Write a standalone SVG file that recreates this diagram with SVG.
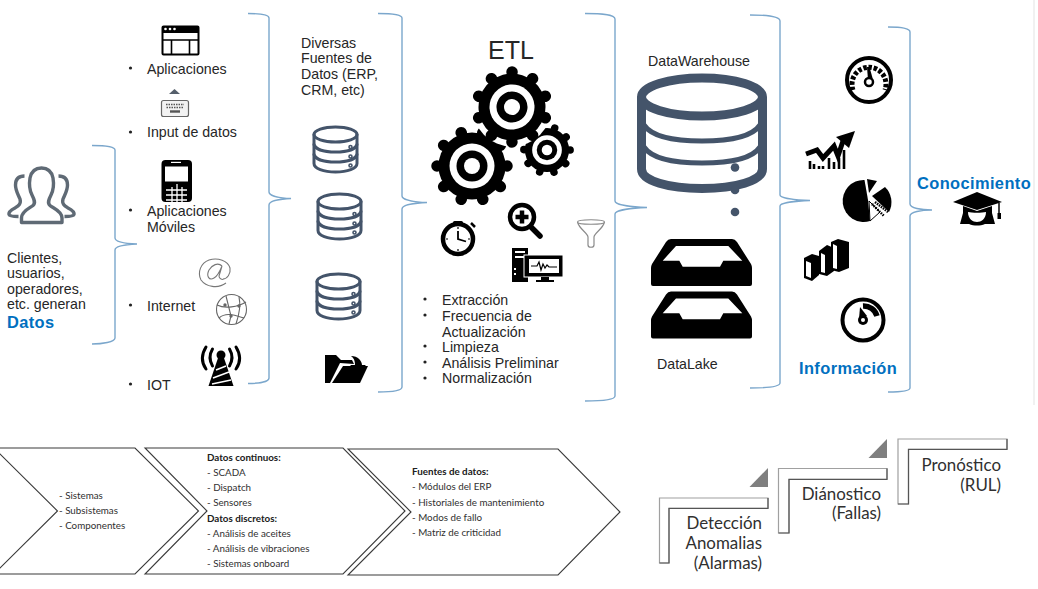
<svg xmlns="http://www.w3.org/2000/svg" xmlns:xlink="http://www.w3.org/1999/xlink" width="1038" height="589" viewBox="0 0 1038 589">
<style>
text{font-family:"Liberation Sans",Arial,sans-serif;font-size:14.2px;fill:#262626}
text:not(.cal):not(.calb):not(.big){transform:translateY(.8px)}
.blue{font-weight:bold;fill:#0070c0;font-size:16.4px;letter-spacing:.4px}
.cal{font-family:Lato,Carlito,sans-serif;font-size:9.8px;fill:#303030}
.calb{font-family:Lato,Carlito,sans-serif;font-size:9.8px;font-weight:bold;fill:#202020}
.big{font-family:Lato,Carlito,sans-serif;font-size:16.9px;fill:#303030;text-anchor:end}
.brace{fill:none;stroke:#7ba7cc;stroke-width:1.4}
.chev{fill:#fff;stroke:#3a3a3a;stroke-width:1.1}
.stepo{fill:#fff;stroke:#a0a0a0;stroke-width:1.2}
.stepi{fill:none;stroke:#555;stroke-width:1.2}
.tri{fill:#7f7f7f}
.bk{fill:#000}
.wh{fill:#fff}
</style>
<defs>
<g id="gear">
<circle r="35" fill="none" stroke="#000" stroke-width="11.5" stroke-linecap="round" pathLength="100" stroke-dasharray="0.01 9.99"/>
<circle r="33.5" fill="#000"/>
<circle r="22.5" fill="#fff"/>
<circle r="15.5" fill="#000"/>
<circle r="8" fill="#fff"/>
</g>
<g id="db" fill="none" stroke="#44546a" stroke-width="3" stroke-linecap="round">
<ellipse cx="23" cy="9" rx="21.500" ry="7.500"/>
<path d="M1.500 9V38C1.500 43 11 46.500 23 46.500S44.500 43 44.500 38V9"/>
<path d="M1.500 19C3 24 12 26.500 23 26.500S43 24 44.500 19M1.500 29C3 34 12 36.500 23 36.500S43 34 44.500 29"/>
<circle cx="38" cy="21.500" r="0.800"/><circle cx="38" cy="31" r="0.800"/><circle cx="38" cy="40" r="0.800"/>
</g>
<path id="tray" fill-rule="evenodd" d="M671 239H732Q735 239 737 242L751 264Q752 266 752 268V284Q752 286 750 286H653Q651 286 651 284V268Q651 266 652 264L666 242Q668 239 671 239ZM662.700 260.700H679.300L682.700 266.700H720L723.300 260.700H742.300L728.300 246H676Z"/>
</defs>

<path id="borde" d="M1034 0V405" stroke="#ececec" stroke-width="1.500" fill="none"/>

<g id="connectors">
<path class="brace" d="M92 145.500C102 145.500 115 146 115 150V238C115 242 125 243.500 137 244C125 244.500 115 246 115 250V338C115 342 102 344 92 344"/>
<path class="brace" d="M248 13.500C258 13.500 269 14 269 18V192C269 196 280 198 291 198.500C280 199 269 201 269 205V378C269 382 258 383.500 248 383.500"/>
<path class="brace" d="M378 13.500C390 13.500 402 14 402 18V196C402 200 415 202 427 202.500C415 203 402 205 402 209V387C402 391 390 392 378 392"/>
<path class="brace" d="M585 13.500C600 13.500 615 14 615 19V201C615 205 632 207 647 207.500C632 208 615 210 615 214V396C615 400 600 401 585 401"/>
<path class="brace" d="M750 15C765 15 780 16 780 21V195C780 198 795 200 810 200.500C795 201 780 203 780 206V383C780 387 765 388 750 388"/>
<path class="brace" d="M888 27C899 27 910 28 910 32V204C910 208 921 210 932 210C921 210 910 212 910 216V388C910 391 899 392 888 392"/>
</g>

<g id="usuarios">
<g fill="none" stroke="#5f6a75" stroke-width="3.400" stroke-linejoin="round">
<path d="M21.500 222.500V218C21.500 211 30 208 33 205.500C36 203 34 199 32 195C29 189 29 184 30 178C31.500 171 36 168 41.500 168S51.500 171 53 178C54 184 54 189 51 195C49 199 47 203 50 205.500C53 208 62 211 62 218V222.500Z"/>
<path d="M24.500 176C18 176 15.500 180 15.500 185C15.500 191 18.500 195 20 199C21.500 204 18 206 15 208C11 210 8.500 212 9 214.500C9.500 216 13 216.500 18.500 216.500"/>
<path d="M58.500 176C65 176 67.500 180 67.500 185C67.500 191 64.500 195 63 199C61.500 204 65 206 68 208C72 210 74.500 212 74 214.500C73.500 216 70 216.500 64.500 216.500"/>
</g>
<text x="7" y="262">Clientes,</text>
<text x="7" y="277">usuarios,</text>
<text x="7" y="293">operadores,</text>
<text x="7" y="308">etc. generan</text>
<text x="7" y="327" class="blue">Datos</text>
</g>

<g id="aplicaciones">
<rect x="162.500" y="26.500" width="36" height="28" rx="1" fill="#fff" stroke="#000" stroke-width="2"/>
<rect x="162" y="26" width="37" height="7" class="bk"/>
<circle cx="165.500" cy="29" r="1.300" class="wh"/><circle cx="170" cy="29" r="1.300" class="wh"/><circle cx="174.500" cy="29" r="1.300" class="wh"/>
<path d="M162 40H199M171.500 40V55M189.500 40V55" stroke="#000" stroke-width="1.600" fill="none"/>
<circle cx="130.500" cy="68" r="1.600" fill="#222"/>
<text x="147" y="73">Aplicaciones</text>
</g>

<g id="input-datos">
<path d="M169 94L174.500 89L180 94Z" fill="#555f6b"/>
<rect x="161.500" y="100.500" width="27" height="16" rx="2" fill="#f2f2f2" stroke="#666" stroke-width="1.200"/>
<path d="M166 104.500H184M166.500 107.500H183.500" stroke="#555" stroke-width="1.500" stroke-dasharray="1.500 1" fill="none"/>
<path d="M170 111.500H180" stroke="#555" stroke-width="2.400" fill="none"/>
<circle cx="130.500" cy="132" r="1.600" fill="#222"/>
<text x="147" y="136">Input de datos</text>
</g>

<g id="moviles">
<rect x="161.500" y="160" width="30.500" height="42" rx="4" class="bk"/>
<rect x="165" y="166.500" width="23" height="15" class="wh"/>
<rect x="171" y="161.800" width="10" height="1.200" class="wh"/>
<path d="M166 190H187M166 195H187M166 200H187M172 187V202M177 184V202M182 187V202" stroke="#fff" stroke-width="1.300" fill="none"/>
<circle cx="130.500" cy="210" r="1.600" fill="#222"/>
<text x="147" y="215">Aplicaciones</text>
<text x="147" y="231">Móviles</text>
</g>

<g id="internet">
<g fill="none" stroke="#777" stroke-width="1.100">
<path d="M226 283C218 289 206 287 201 280C197 272 201 263 209 260C218 257 228 261 230 268C231 274 227 279 223 279"/>
<path d="M222 266C218 262 212 265 209 270C206 276 209 281 214 278C218 276 220 271 222 266L219 276C219 279 223 280 223 279"/>
</g>
<g fill="none" stroke="#666" stroke-width="1.100">
<circle cx="231.500" cy="309.500" r="15"/>
<path d="M217 305C225 309 238 307 246 302M219 318C226 312 234 315 244 318M226 296L231 316L229 324M239 297C241 305 240 312 236 324"/>
</g>
<circle cx="225" cy="305" r="1.700" fill="#666"/><circle cx="239" cy="306" r="1.700" fill="#666"/><circle cx="231" cy="316" r="1.700" fill="#666"/>
<circle cx="130.500" cy="305" r="1.600" fill="#222"/>
<text x="147" y="310">Internet</text>
</g>

<g id="iot">
<path d="M208.500 386L218 358H224L233.500 386Z" class="bk"/>
<path d="M216 370L226 366M213 378L229 372M212 384L231 380" stroke="#fff" stroke-width="1.500" fill="none"/>
<circle cx="221" cy="355" r="4.500" class="bk"/>
<path d="M212.500 349C209 355 209 360 212.500 366M206 347C201 355 201 362 206 369M229.500 349C233 355 233 360 229.500 366M236 347C241 355 241 362 236 369" fill="none" stroke="#000" stroke-width="3" stroke-linecap="round"/>
<circle cx="130.500" cy="384" r="1.600" fill="#222"/>
<text x="147" y="389">IOT</text>
</g>

<g id="fuentes">
<text x="301" y="47">Diversas</text>
<text x="301" y="62">Fuentes de</text>
<text x="301" y="78">Datos (ERP,</text>
<text x="301" y="94">CRM, etc)</text>
<use xlink:href="#db" href="#db" x="312.500" y="125.500"/>
<use xlink:href="#db" href="#db" x="316.500" y="192.500"/>
<use xlink:href="#db" href="#db" x="315.500" y="272.500"/>
<path d="M325 355H336L341 360H352L354 364L340 363L330 383H325Z" class="bk"/>
<path d="M332 383L343 366H368L360 383Z" class="bk"/>
<path d="M351 356C358 356 362 361 362 365H366L358 372L350 365H355C355 361 354 358 351 356Z" class="bk"/>
</g>

<g id="etl">
<text x="488" y="58" style="font-size:25px">ETL</text>
<use xlink:href="#gear" href="#gear" transform="translate(472 166)"/>
<use xlink:href="#gear" href="#gear" transform="translate(547 150) scale(.66)"/>
<circle cx="512" cy="107" r="39.500" fill="#fff"/>
<use xlink:href="#gear" href="#gear" transform="translate(512 107) rotate(18)"/>
<g id="cronometro">
<circle cx="458" cy="239" r="15" fill="#fff" stroke="#000" stroke-width="4.500"/>
<rect x="453" y="221" width="10" height="3.500" rx="1.500" class="bk"/>
<rect x="456.500" y="224" width="3" height="2" class="bk"/>
<path d="M471 223L475 227" stroke="#000" stroke-width="2.500"/>
<path d="M458 231V239L466 241.500" fill="none" stroke="#000" stroke-width="1.800"/>
<path d="M458 227V229M458 249V251M446 239H448M468 239H470" stroke="#000" stroke-width="1.200"/>
</g>
<g id="lupa">
<path d="M531 227L540 236" stroke="#000" stroke-width="5.500" stroke-linecap="round"/>
<circle cx="522" cy="217" r="12" fill="#fff" stroke="#000" stroke-width="4.500"/>
<path d="M522 210.500V223.500M515.500 217H528.500" stroke="#000" stroke-width="4.500"/>
</g>
<path id="embudo" d="M577.500 222C577.500 219 604.500 219 604.500 222C604.500 225 577.500 225 577.500 222C579 229 588 233 588 237V245C588 248 594 248 594 245V237C594 233 603 229 604.500 222" fill="#fff" stroke="#8a8a8a" stroke-width="1.200"/>
<g id="monitor">
<rect x="512" y="248" width="16" height="34" class="bk"/>
<rect x="515" y="251" width="10" height="2" class="wh"/>
<rect x="515" y="256" width="10" height="2" class="wh"/>
<rect x="514" y="268" width="2" height="2" class="wh"/><rect x="514" y="273" width="2" height="2" class="wh"/>
<rect x="524" y="255" width="39" height="22" fill="#000" stroke="#fff" stroke-width="1"/>
<rect x="529" y="259" width="30" height="14" class="wh"/>
<path d="M531 266H537L539 262L541 270L543 264L545 268L547 265L549 267H557" fill="none" stroke="#000" stroke-width="1.200"/>
<path d="M541 277H549V280H554V282H536V280H541Z" class="bk"/>
</g>
<g id="lista-etl">
<circle cx="425" cy="299" r="1.600" fill="#222"/><circle cx="425" cy="315" r="1.600" fill="#222"/><circle cx="425" cy="346" r="1.600" fill="#222"/><circle cx="425" cy="362" r="1.600" fill="#222"/><circle cx="425" cy="378" r="1.600" fill="#222"/>
<text x="442" y="304">Extracción</text>
<text x="442" y="320">Frecuencia de</text>
<text x="442" y="336">Actualización</text>
<text x="442" y="351">Limpieza</text>
<text x="442" y="367">Análisis Preliminar</text>
<text x="442" y="382">Normalización</text>
</g>
</g>

<g id="datawarehouse">
<text x="648" y="65">DataWarehouse</text>
<g fill="none" stroke="#44546a">
<ellipse cx="702" cy="97" rx="60.500" ry="19" stroke-width="9"/>
<path d="M641.500 97V169C641.500 181 669 188.500 702 188.500S762.500 181 762.500 169V97" stroke-width="9"/>
<path d="M644 125C652 137 676 141 702 141S752 137 760 125M644 147C652 159 676 163 702 163S752 159 760 147" stroke-width="5"/>
</g>
<circle cx="735" cy="167.500" r="4.300" fill="#44546a"/>
<circle cx="735" cy="190" r="4.300" fill="#44546a"/>
<circle cx="735" cy="212" r="4.300" fill="#44546a"/>
</g>

<g id="datalake">
<use xlink:href="#tray" href="#tray"/>
<use xlink:href="#tray" href="#tray" y="52.500"/>
<text x="657" y="368">DataLake</text>
</g>

<g id="informacion">
<g id="gauge1">
<circle cx="869" cy="80" r="22" fill="#fff" stroke="#000" stroke-width="4"/>
<path d="M853 90A17 17 0 1 1 885 90" fill="none" stroke="#000" stroke-width="5" stroke-dasharray="3.500 1.800"/>
<path d="M867 67H869.500L872.500 78L868 80Z" class="bk"/>
<circle cx="869" cy="82" r="4" fill="#fff" stroke="#000" stroke-width="2.500"/>
</g>
<g id="tendencia">
<path d="M806 154L817 150L823 158L834 146L838 156L844 138" fill="none" stroke="#000" stroke-width="5"/>
<path d="M836 137L855 131L849 148Z" class="bk"/>
<path d="M810 161V169M814 164V169M819 166V169M823 166V169M829 158V169M834 162V169M839 158V169M844 150V169" stroke="#000" stroke-width="2.600" fill="none"/>
</g>
<g id="pastel">
<path d="M864.500 180A21 21 0 1 0 870 221L868 200Z" class="bk"/>
<path d="M867 179L877 181L869 193Z" class="bk"/>
<path d="M872 196L885 187A21 21 0 0 1 889 212Z" class="bk"/>
<path d="M869 201L880 212L870 221Z" fill="none" stroke="#000" stroke-width="1"/>
<path d="M872 204L884 216M875 202L888 212" stroke="#000" stroke-width="2.500" stroke-dasharray="1.500 1" fill="none"/>
</g>
<g id="barras">
<path d="M804 258L812 254L819 256V275L812 281L804 278Z" class="bk"/>
<path d="M819 251L827 245L834 248V271L827 276L819 274Z" class="bk"/>
<path d="M831 242L838 239L849 242V268L839 272L831 270Z" class="bk"/>
<path d="M806 261V276L811 278V263ZM821 253V272L825 273V255ZM833 244V268L837 269V246Z" class="wh"/>
</g>
<g id="gauge2">
<circle cx="863" cy="320" r="20.500" fill="#fff" stroke="#000" stroke-width="4"/>
<path d="M863 306A14 14 0 0 1 877 316" fill="none" stroke="#000" stroke-width="5.500"/>
<path d="M860 307L867 316L859 319Z" class="bk"/>
<circle cx="863" cy="320" r="5" class="bk"/><circle cx="863" cy="320" r="2" class="wh"/>
</g>
<text x="799" y="373" class="blue">Información</text>
</g>

<g id="conocimiento">
<text x="917" y="188" class="blue">Conocimiento</text>
<path d="M953 202L977 192L1002 202L977 210Z" class="bk"/>
<path d="M999 203V214" stroke="#000" stroke-width="1.500"/>
<rect x="997.500" y="213" width="3.500" height="6" class="bk"/>
<path d="M963 206L977 211L992 206V213L995 224H985C980 226 974 226 969 224H960L963 213Z" class="bk"/>
<path d="M968 212C972 213 982 213 986 212C986 219 981 222 977 222S968 219 968 212Z" class="wh"/>
</g>

<g id="chevron-sistemas">
<path class="chev" d="M-6 448H135L198.500 511L135 574H-6L57.500 511Z"/>
<text x="59" y="499" class="cal">- Sistemas</text>
<text x="59" y="514" class="cal">- Subsistemas</text>
<text x="59" y="529" class="cal">- Componentes</text>
</g>
<g id="chevron-continuos">
<path class="chev" d="M145 448H343L405 511L343 574H145L207 511Z"/>
<text x="207" y="461" class="calb">Datos continuos:</text>
<text x="207" y="476" class="cal">- SCADA</text>
<text x="207" y="491" class="cal">- Dispatch</text>
<text x="207" y="506" class="cal">- Sensores</text>
<text x="207" y="522" class="calb">Datos discretos:</text>
<text x="207" y="537" class="cal">- Análisis de aceites</text>
<text x="207" y="552" class="cal">- Análisis de vibraciones</text>
<text x="207" y="567" class="cal">- Sistemas onboard</text>
</g>
<g id="chevron-fuentes">
<path class="chev" d="M348 449H558L620 512L558 575H348L411 512Z"/>
<text x="412" y="475" class="calb">Fuentes de datos:</text>
<text x="412" y="490" class="cal">- Módulos del ERP</text>
<text x="412" y="506" class="cal">- Historiales de mantenimiento</text>
<text x="412" y="521" class="cal">- Modos de fallo</text>
<text x="412" y="536" class="cal">- Matriz de criticidad</text>
</g>

<g id="deteccion">
<path class="tri" d="M749.500 487L768 468V487Z"/>
<path class="stepo" d="M659.500 498H768V508H669V563H659.500Z"/>
<path class="stepi" d="M659.500 563H669V508.500H768V498"/>
<text x="762" y="529" class="big">Detección</text>
<text x="762" y="549" class="big">Anomalias</text>
<text x="762" y="569" class="big">(Alarmas)</text>
</g>
<g id="diagnostico">
<path class="tri" d="M868.500 458L887 439V458Z"/>
<path class="stepo" d="M778.500 468.500H887V479H789V533H778.500Z"/>
<path class="stepi" d="M778.500 533H789V479.500H887V468.500"/>
<text x="881" y="500" class="big">Diánostico</text>
<text x="881" y="519" class="big">(Fallas)</text>
</g>
<g id="pronostico">
<path class="stepo" d="M898 439H1007V449H908.500V504H898Z"/>
<path class="stepi" d="M898 504H908.500V449.500H1007V439"/>
<text x="1001" y="471" class="big">Pronóstico</text>
<text x="1001" y="491" class="big">(RUL)</text>
</g>
</svg>
